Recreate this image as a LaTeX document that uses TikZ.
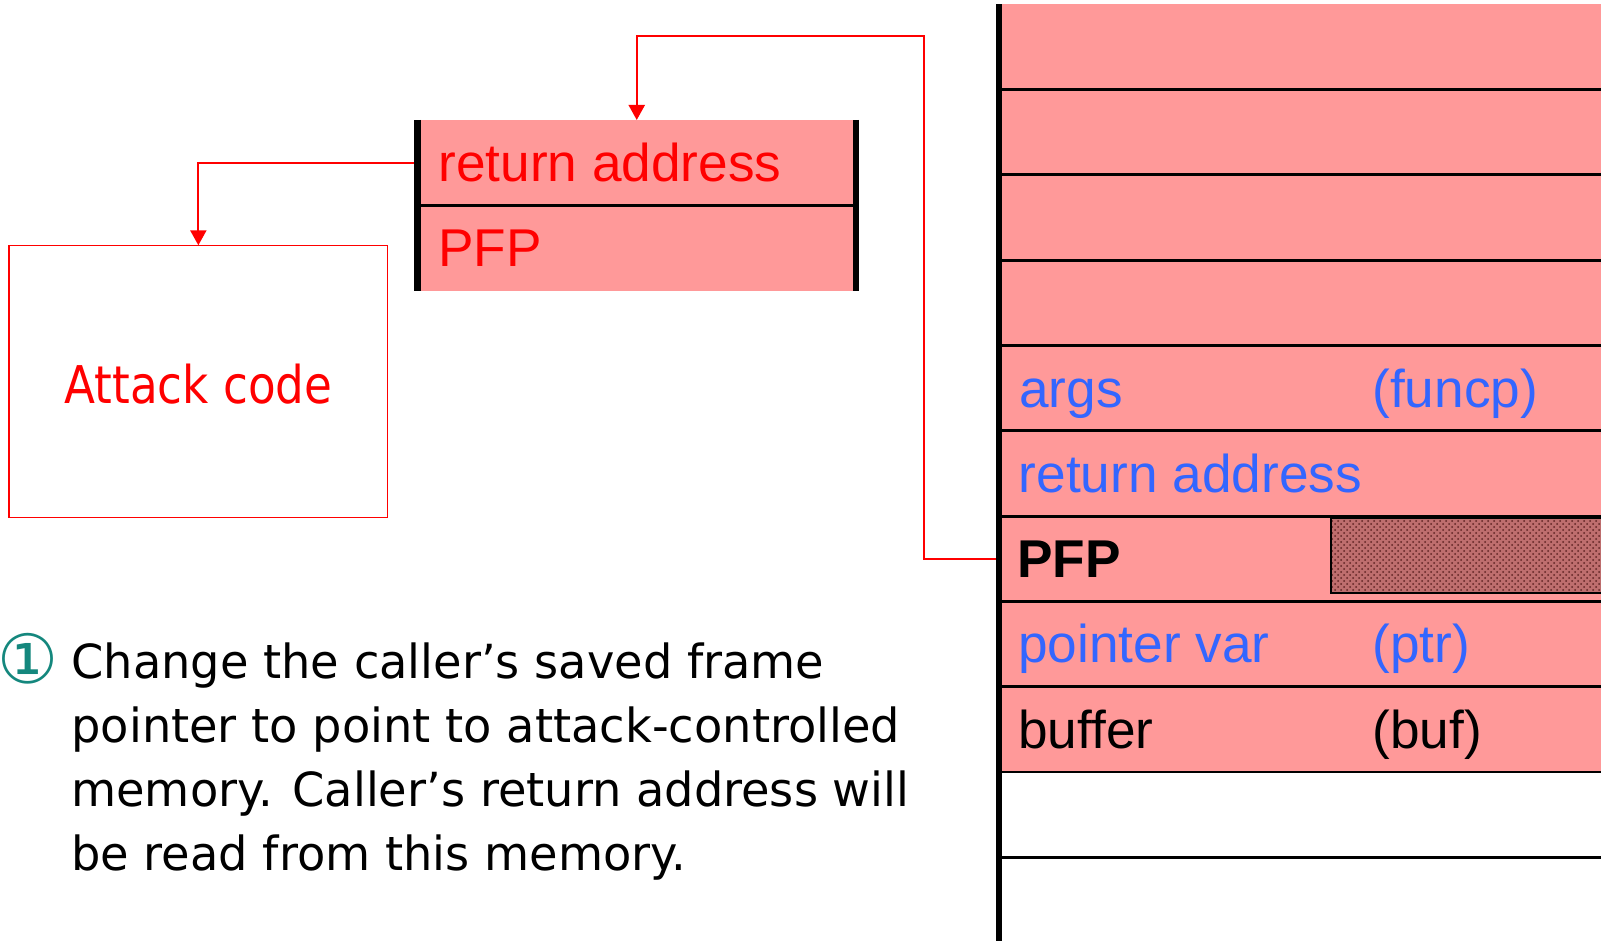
\documentclass[tikz,border=0pt]{standalone}
\usepackage{fontspec}
\setmainfont{Liberation Sans}
\newfontfamily\tah{DejaVu Sans}[FakeStretch=0.87]
\newfontfamily\tahbody{DejaVu Sans}[FakeStretch=0.985]
\newfontfamily\djv{DejaVu Sans}
\usetikzlibrary{arrows.meta,patterns,calc}
\definecolor{stackpink}{RGB}{255,153,153}
\definecolor{labelblue}{RGB}{51,102,255}
\definecolor{stepteal}{RGB}{20,135,125}
\definecolor{hatchfill}{RGB}{190,110,110}
\definecolor{hatchdark}{RGB}{95,35,35}
\begin{document}
\begin{tikzpicture}[x=0.5pt,y=-0.5pt,
  cell/.style={fill=stackpink, inner sep=0pt, outer sep=0pt, anchor=north west,
    minimum width=301pt, minimum height=42.65pt},
  scell/.style={fill=stackpink, inner sep=0pt, outer sep=0pt, anchor=north west,
    minimum width=219.25pt, minimum height=42.75pt},
  rowline/.style={line width=1.4pt, black},
  bar/.style={black},
  conn/.style={draw=red, line width=1.1pt, -{Triangle[width=8pt,length=7.5pt]}},
  lab/.style={anchor=base west, inner sep=0pt, font=\fontsize{26.6}{30}\selectfont},
  body/.style={anchor=base west, inner sep=0pt, font=\tahbody\fontsize{23.5}{32}\selectfont},
  hatchbox/.style={anchor=north west, inner sep=0pt, outer sep=0pt, draw=black, line width=0.6pt,
    minimum width=140pt, minimum height=37.5pt,
    preaction={fill=hatchfill}, pattern=crosshatch dots, pattern color=hatchdark}
]
\useasboundingbox (0,0) rectangle (1601,941);

% stack rows
\foreach \i in {0,...,8} \node[cell] (r\i) at (999,{4.3+85.3*\i}) {};
\foreach \i in {9,10} \node[cell, fill=none] (r\i) at (999,{4.3+85.3*\i}) {};

% hatched box in PFP row
\node[hatchbox] (hb) at (1331,518) {};

% row separators
\foreach \i in {1,...,10} \draw[rowline] (r\i.north west) -- (r\i.north east);

% small frame (return address / PFP)
\node[scell] (sret) at (417.5,120) {};
\node[scell] (spfp) at (417.5,205.5) {};
\draw[line width=1.5pt] (spfp.north west) -- (spfp.north east);

% attack code box
\node[draw=red, line width=0.65pt, minimum width=189.35pt, minimum height=136.2pt,
  inner sep=0pt, outer sep=0pt] (attack) at (198.35,381.5) {};
\node[inner sep=0pt, text=red, font=\tah\fontsize{26}{30}\selectfont] (tattack) at (198.35,384) {Attack code};

% connectors
\coordinate (bend) at (924,36);
\draw[conn] (sret.west) -| (attack.north);
\draw[conn] (r6.west) -| (bend) -| (sret.north);

% vertical bars
\draw[bar, line width=3pt] (r0.north west) -- (r10.south west);
\draw[bar, line width=3.5pt] (sret.north west) -- (spfp.south west);
\draw[bar, line width=3pt] (sret.north east) -- (spfp.south east);

% small frame labels
\node[lab, text=red] (tra) at (438,182) {return address};
\node[lab, text=red] (tpfp) at (438,267) {PFP};

% stack labels
\node[lab, text=labelblue] (targs) at (1019,407) {args};
\node[lab, text=labelblue] (tfuncp) at (1372,407) {(funcp)};
\node[lab, text=labelblue] (tret) at (1018.5,492) {return address};
\node[lab, text=black, font=\bfseries\fontsize{26.6}{30}\selectfont] (tPFP) at (1017,577.4) {PFP};
\node[lab, text=labelblue] (tptr) at (1018,662.7) {pointer var};
\node[lab, text=labelblue] (tptrn) at (1372,662.7) {(ptr)};
\node[lab, text=black] (tbuf) at (1018,748) {buffer};
\node[lab, text=black] (tbufn) at (1372,748) {(buf)};

% step text
\node[inner sep=0pt, text=stepteal, font=\djv\fontsize{34}{34}\selectfont] (num) at (28,659) {①};
\node[body] (l1) at (71,678) {Change the caller’s saved frame};
\node[body] (l2) at (71,742) {pointer to point to attack-controlled};
\node[body] (l3) at (71,806) {memory. Caller’s return address will};
\node[body] (l4) at (71,870) {be read from this memory.};
\end{tikzpicture}
\end{document}
